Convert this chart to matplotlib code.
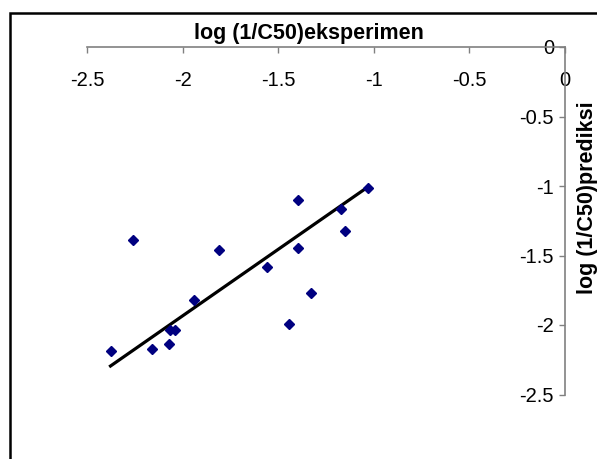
import matplotlib
matplotlib.use('Agg')
import matplotlib.pyplot as plt
from matplotlib.patches import Rectangle

plt.rcParams['font.family'] = ['Liberation Sans', 'DejaVu Sans']

# log(1/C50) eksperimen vs prediksi
eksperimen = [-2.377, -2.261, -2.160, -2.070, -2.065, -2.038, -1.942, -1.811,
              -1.558, -1.444, -1.395, -1.395, -1.326, -1.170, -1.149, -1.030]
prediksi = [-2.185, -1.391, -2.175, -2.139, -2.038, -2.038, -1.818, -1.460,
            -1.581, -1.995, -1.101, -1.446, -1.772, -1.163, -1.324, -1.012]

# trend line ends
garis_x = [-2.377, -1.030]
garis_y = [-2.295, -1.006]

ticks = [-2.5, -2, -1.5, -1, -0.5, 0]
tick_labels = ['-2.5', '-2', '-1.5', '-1', '-0.5', '0']

W, H = 597, 459
fig = plt.figure(figsize=(W / 100, H / 100), dpi=100)
ax = fig.add_axes([87 / W, 1 - 394.5 / H, (565 - 87) / W, (394.5 - 47) / H])

ax.plot(garis_x, garis_y, color='black', lw=2.3, zorder=2)
ax.plot(eksperimen, prediksi, linestyle='none', marker='D', ms=5,
        color='#000080', mec='#000080', zorder=3, clip_on=False)

ax.set_xlim(-2.5, 0)
ax.set_ylim(-2.5, 0)
ax.set_xticks(ticks)
ax.set_xticklabels(tick_labels)
ax.set_yticks(ticks)
ax.set_yticklabels(tick_labels)

ax.spines['top'].set_visible(False)
ax.spines['right'].set_visible(False)
ax.spines['bottom'].set_position(('data', 0))
ax.spines['left'].set_position(('data', 0))
for s in ['bottom', 'left']:
    ax.spines[s].set_color('#808080')
    ax.spines[s].set_linewidth(1.2)

ax.tick_params(axis='x', direction='out', length=4, width=1, color='#808080',
               labelsize=14.5, pad=13.5)
ax.tick_params(axis='y', direction='out', length=4, width=1, color='#808080',
               labelsize=14.5, pad=4)

fig.text(309 / W, 1 - 34 / H, 'log (1/C50)eksperimen', fontsize=15.5,
         fontweight='bold', ha='center', va='center')
fig.text(588 / W, 1 - 198 / H, 'log (1/C50)prediksi', fontsize=15.5,
         fontweight='bold', ha='center', va='center', rotation=90)

# outer frame (only left and top visible)
fig.add_artist(Rectangle((9.5 / W, -0.1), 1.2, 1 - 13 / H + 0.1, fill=False,
                         edgecolor='black', lw=1.8, transform=fig.transFigure))

fig.savefig('out.png', dpi=100)
